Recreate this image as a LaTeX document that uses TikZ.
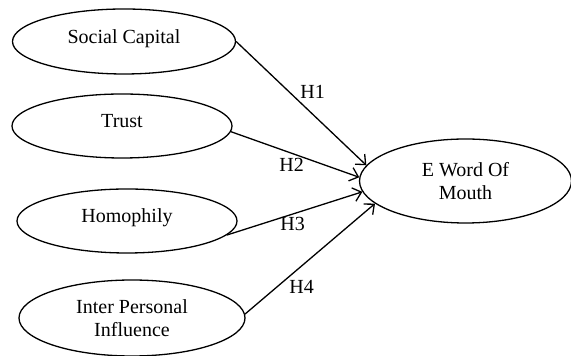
\documentclass[tikz,border=0pt]{standalone}
\usepackage{fontspec}
\setmainfont{Liberation Serif}
\usetikzlibrary{shapes.geometric,arrows.meta}
\begin{document}
\begin{tikzpicture}[x=0.5pt,y=-0.5pt,
  every node/.style={font=\fontsize{10}{11.5}\selectfont},
  ell/.style={draw,ellipse,line width=0.65pt,inner sep=0pt},
  oneline/.style={text height=7pt,text depth=5pt},
  twoline/.style={align=center},
  conn/.style={line width=0.65pt,-{Straight Barb[length=4pt,width=7pt,line width=0.65pt]}},
  hlab/.style={inner sep=0pt}]
\useasboundingbox (0,0) rectangle (571,356);
\node[ell,oneline,minimum width=223pt/2*1,minimum height=65pt/2] (sc) at (124,41.5) {Social Capital};
\node[ell,oneline,minimum width=110pt,minimum height=32pt] (tr) at (122,126) {Trust};
\node[ell,oneline,minimum width=110pt,minimum height=32pt] (ho) at (127,221) {Homophily};
\node[ell,twoline,minimum width=113pt,minimum height=38pt] (ip) at (132,318) {Inter Personal\\Influence};
\node[ell,twoline,minimum width=106pt,minimum height=42pt] (ew) at (465.5,181) {E Word Of\\Mouth};
\draw[conn] (sc.0) -- (ew.171);
\draw[conn] (tr.-3) -- (ew.178);
\draw[conn] (ho.-8) -- (ew.186);
\draw[conn] (ip.2) -- (ew.194);
\node[hlab] (h1) at (312.7,92) {H1};
\node[hlab] (h2) at (291.7,165) {H2};
\node[hlab] (h3) at (292.7,224) {H3};
\node[hlab] (h4) at (301.7,286.7) {H4};
\end{tikzpicture}
\end{document}
